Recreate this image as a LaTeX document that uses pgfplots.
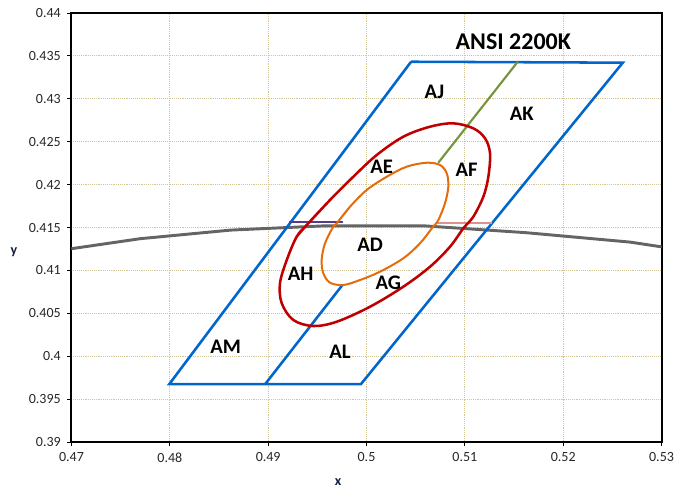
\documentclass[border=0pt]{standalone}
\usepackage{pgfplots}
\pgfplotsset{compat=1.18}
\usepackage{fontspec}
\setmainfont{Carlito}
\usetikzlibrary{calc}

\definecolor{qblue}{RGB}{0,102,204}
\definecolor{ered}{RGB}{192,0,0}
\definecolor{eorange}{RGB}{228,108,10}
\definecolor{cgreen}{RGB}{119,147,60}
\definecolor{locus}{RGB}{100,100,100}
\definecolor{gridtan}{RGB}{210,198,150}
\definecolor{dupurple}{RGB}{84,60,140}
\definecolor{dupink}{RGB}{222,145,145}
\definecolor{axlab}{RGB}{20,30,60}

\begin{document}
\begin{tikzpicture}
\begin{axis}[
    scale only axis,
    width=442.5pt, height=321.75pt,
    xmin=0.47, xmax=0.53, ymin=0.39, ymax=0.44,
    xtick={0.47,0.48,0.49,0.5,0.51,0.52,0.53},
    ytick={0.39,0.395,0.4,0.405,0.41,0.415,0.42,0.425,0.43,0.435,0.44},
    scaled ticks=false,
    /pgf/number format/precision=3,
    /pgf/number format/assume math mode=true,
    tick pos=left,
    tick align=outside,
    major tick length=3pt,
    tick style={black, line width=0.6pt},
    grid=major,
    major grid style={gridtan, densely dotted, line width=0.7pt},
    axis line style={black, line width=1.5pt},
    tick label style={font=\fontsize{10.5}{12}\selectfont, text=black!85},
    yticklabel style={xshift=-1.5pt},
    xticklabel style={yshift=-1.5pt},
    xlabel={x}, ylabel={y},
    label style={font=\bfseries\fontsize{10.5}{12}\selectfont, text=axlab},
    xlabel style={at={(axis description cs:0.452,0)}, anchor=center, yshift=-29.8pt},
    ylabel style={rotate=-90, at={(axis description cs:0,0.4436)}, anchor=center, xshift=-43.1pt},
]
\coordinate (sw) at (rel axis cs:0,0);
\coordinate (ne) at (rel axis cs:1,1);

% Planckian locus
\addplot[locus, line width=2.2pt] coordinates {
  (0.4599,0.4106) (0.4686,0.4123) (0.4770,0.4137) (0.4862,0.4147)
  (0.4958,0.4152) (0.5058,0.4152) (0.5162,0.4144) (0.5268,0.4133)
  (0.5378,0.4114)
};

% ANSI 2200K quadrangle
\addplot[qblue, line width=1.9pt] coordinates {
  (0.50453,0.43432) (0.52606,0.43421) (0.49944,0.39676) (0.47995,0.39676) (0.50453,0.43432)
};
\addplot[qblue, line width=1.9pt] coordinates {(0.4897,0.39676) (0.49755,0.4083)};
\addplot[cgreen, line width=1.6pt] coordinates {(0.5073,0.42255) (0.51538,0.43432)};

% Duv segments
\addplot[dupurple, line width=1.9pt] coordinates {(0.49215,0.41564) (0.49764,0.41564)};
\addplot[dupink, line width=1.9pt] coordinates {(0.50714,0.41555) (0.51273,0.41555)};

% outer ellipse
\addplot[ered, line width=1.9pt, smooth, tension=0.55] coordinates {
  (0.4929,0.41393) (0.49392,0.41529) (0.49629,0.41821) (0.49866,0.42092)
  (0.50104,0.42345) (0.50374,0.42558) (0.50646,0.42675) (0.50883,0.42714)
  (0.51086,0.42656) (0.51205,0.42540) (0.51256,0.42365) (0.51239,0.42092)
  (0.51188,0.41859) (0.51086,0.41626) (0.50985,0.41491) (0.50849,0.41276)
  (0.50646,0.41043) (0.50374,0.40810) (0.50036,0.40577) (0.49697,0.40402)
  (0.49459,0.40352) (0.49256,0.40422) (0.49138,0.40617) (0.49120,0.40850)
  (0.49189,0.41121) (0.4929,0.41393) (0.49392,0.41529) (0.49629,0.41821)
};

% inner ellipse
\addplot[eorange, line width=1.5pt, smooth, tension=0.55] coordinates {
  (0.49662,0.41509) (0.49697,0.41549) (0.49832,0.41742) (0.50002,0.41937)
  (0.50206,0.42092) (0.50409,0.42209) (0.50612,0.42255) (0.50748,0.42228)
  (0.50816,0.42132) (0.50832,0.41976) (0.50798,0.41782) (0.50730,0.41587)
  (0.50667,0.41494) (0.50544,0.41316) (0.50374,0.41141) (0.50137,0.40985)
  (0.49934,0.40888) (0.49764,0.40830) (0.49629,0.40857) (0.49561,0.40966)
  (0.49544,0.41121) (0.49578,0.41316) (0.49662,0.41509) (0.49697,0.41549)
  (0.49832,0.41742)
};

\node[font=\bfseries\fontsize{18}{20}\selectfont] at (axis cs:0.51493,0.43666) {ANSI 2200K};
\begin{scope}[every node/.style={font=\bfseries\fontsize{15.5}{17}\selectfont}]
\node at (axis cs:0.50690,0.43083) {AJ};
\node at (axis cs:0.51578,0.42831) {AK};
\node at (axis cs:0.50155,0.42209) {AE};
\node at (axis cs:0.51019,0.42170) {AF};
\node at (axis cs:0.50036,0.41296) {AD};
\node at (axis cs:0.49331,0.40966) {AH};
\node at (axis cs:0.50222,0.40850) {AG};
\node at (axis cs:0.48568,0.40111) {AM};
\node at (axis cs:0.49730,0.40049) {AL};
\end{scope}
\end{axis}
\pgfresetboundingbox
\path[use as bounding box] ($(sw)+(-53.6pt,-36pt)$) rectangle ($(ne)+(10.1pt,9.75pt)$);
\end{tikzpicture}
\end{document}
